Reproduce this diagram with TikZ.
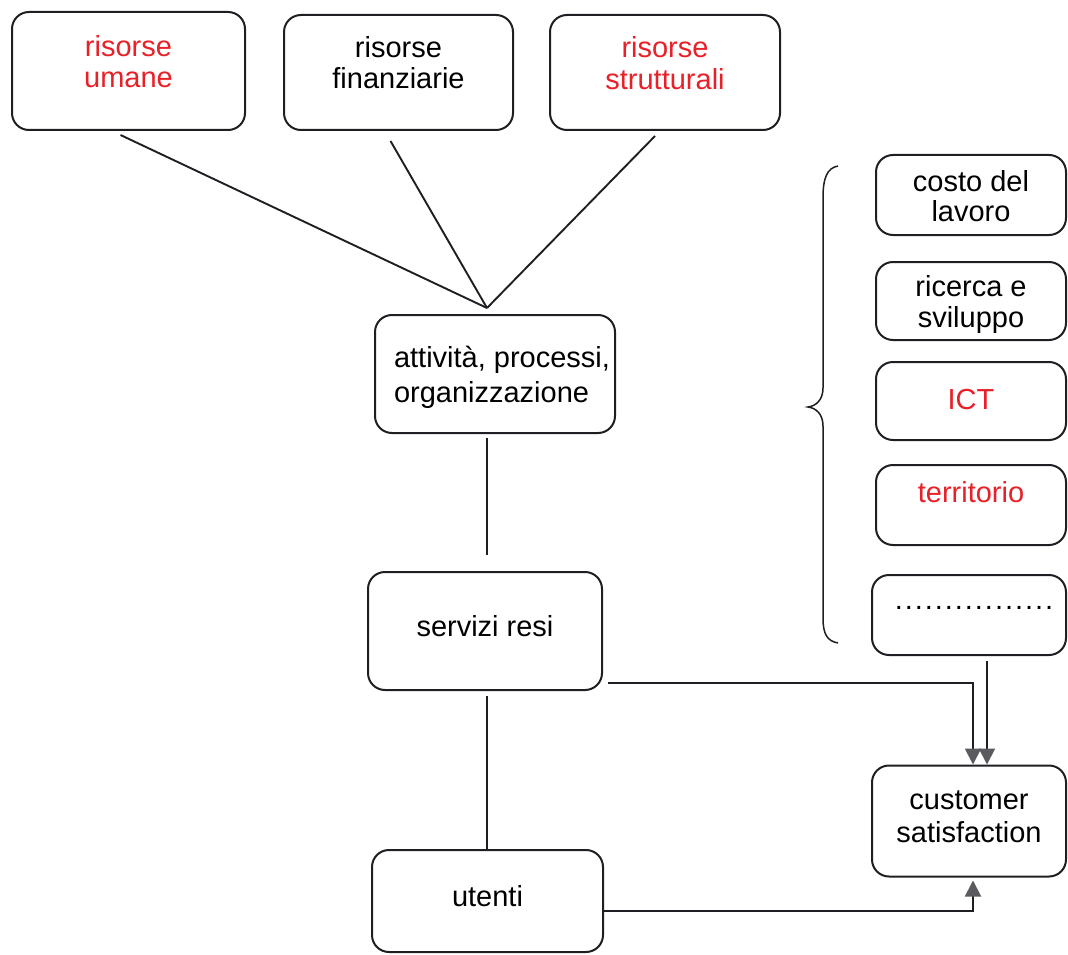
\documentclass[tikz,border=0pt]{standalone}
\usepackage{fontspec}
\setmainfont{Liberation Sans}
\usetikzlibrary{arrows.meta,calc}
\definecolor{redtxt}{RGB}{232,32,40}
\definecolor{ink}{RGB}{30,30,35}
\definecolor{tipgray}{RGB}{90,90,95}
% \tb{line spacing}{raise of last baseline above node centre}{column}{text}
\newcommand{\tb}[4]{\fontsize{29}{#1}\selectfont\raisebox{#2}[0pt][0pt]{\begin{tabular}[b]{@{}#3@{}}#4\end{tabular}}}
\tikzset{
  box/.style={draw=ink, line width=2pt, rounded corners=17pt, align=center,
    inner sep=0pt, font=\fontsize{29}{32}\selectfont, text=black},
  redt/.style={text=redtxt},
  conn/.style={draw=ink, line width=1.9pt},
  arr/.style={conn, -{Triangle[length=16pt,width=16pt,fill=tipgray,color=tipgray]}},
}
\begin{document}
\begin{tikzpicture}[x=1pt,y=-1pt]
\useasboundingbox (0,0) rectangle (1068,955);
% top boxes
\node[box,redt,minimum width=233pt,minimum height=118pt] (hum) at (128.5,71) {\tb{31pt}{-17pt}{c}{risorse\\umane}};
\node[box,minimum width=229pt,minimum height=115pt] (fin) at (398.5,72.5) {\tb{31pt}{-16.5pt}{c}{risorse\\finanziarie}};
\node[box,redt,minimum width=230pt,minimum height=115pt] (str) at (665,72.5) {\tb{32pt}{-17.5pt}{c}{risorse\\strutturali}};
% central column
\node[box,minimum width=240pt,minimum height=118pt] (att) at (495,374) {\hspace*{14pt}\tb{35pt}{-28pt}{l}{attività, processi,\\organizzazione}};
\node[box,minimum width=234pt,minimum height=118pt] (serv) at (485,631) {\tb{32pt}{-5pt}{c}{servizi resi}};
\node[box,minimum width=231pt,minimum height=102pt] (ut) at (487.5,901) {\tb{32pt}{-5pt}{c}{utenti}};
% right column
\node[box,minimum width=190pt,minimum height=80pt] (costo) at (971,195) {\tb{30pt}{-26.5pt}{c}{costo del\\lavoro}};
\node[box,minimum width=190pt,minimum height=78pt] (ric) at (971,301) {\tb{30pt}{-26pt}{c}{ricerca e\\sviluppo}};
\node[box,redt,minimum width=190pt,minimum height=78pt] (ict) at (971,401) {\tb{32pt}{-8pt}{c}{ICT}};
\node[box,redt,minimum width=190pt,minimum height=80pt] (terr) at (971,505) {\tb{32pt}{3pt}{c}{territorio}};
\node[box,minimum width=194pt,minimum height=80pt] (dots) at (969,615)
  {\hspace*{12pt}\raisebox{6pt}[0pt][0pt]{\makebox[162pt]{\leaders\hbox to 10pt{\hss.\hss}\hfill}}};
\node[box,minimum width=194pt,minimum height=111pt] (cust) at (969,821) {\tb{33pt}{-21pt}{c}{customer\\satisfaction}};
% convergence lines
\coordinate (conv) at (487,308);
\draw[conn] ($(hum.south)+(-8,4)$) -- (conv);
\draw[conn] ($(fin.south)+(-8,10)$) -- (conv);
\draw[conn] ($(str.south)+(-10,5)$) -- (conv);
% vertical lines
\draw[conn] ($(att.south)+(-8,4)$) -- ($(serv.north)+(2,-16)$);
\draw[conn] ($(serv.south)+(2,5)$) -- ($(ut.north)+(-0.5,0)$);
% arrows to customer satisfaction
\draw[arr] ($(serv.east)+(5,52)$) -| ($(cust.north)+(4,0)$);
\draw[arr] ($(dots.south)+(18,5)$) -- ($(cust.north)+(18,0)$);
\draw[arr] ($(ut.east)+(0,10)$) -| ($(cust.south)+(4,3)$);
% brace
\draw[ink,line width=1.5pt] (838,166) .. controls (827,168) and (823,178) .. (823,198)
  -- (823,388) .. controls (823,400) and (816,406) .. (808,407)
  .. controls (816,408) and (823,414) .. (823,426)
  -- (823,618) .. controls (823,634) and (827,641) .. (838,643);
\end{tikzpicture}
\end{document}
